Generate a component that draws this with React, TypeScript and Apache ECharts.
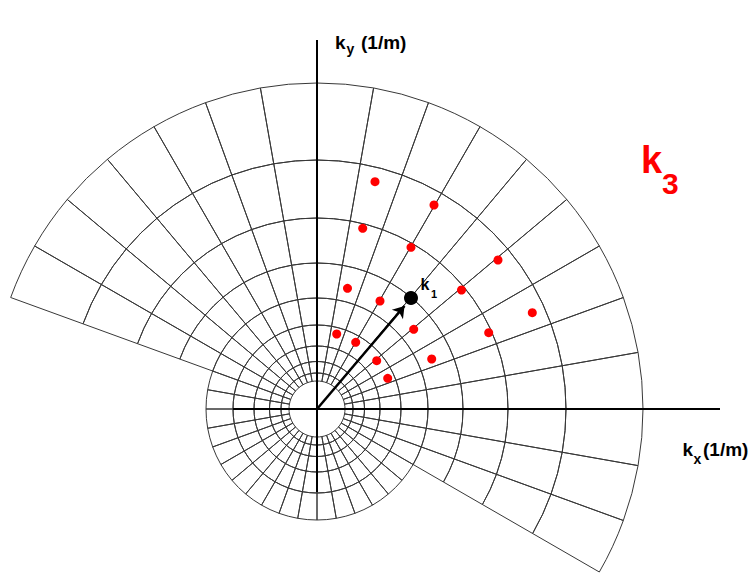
import React, { useEffect, useRef } from "react";
import * as echarts from "echarts";

// Direction bins of the wave-number grid (degrees, start of each 10° bin, counter-clockwise from +kx)
const ANGLE_BINS = [
  "0", "10", "20", "30", "40", "50", "60", "70", "80", "90", "100", "110",
  "120", "130", "140", "150", "160", "170", "180", "190", "200", "210", "220", "230",
  "240", "250", "260", "270", "280", "290", "300", "310", "320", "330", "340", "350",
];
// Bins covered by the outer (high-k) part of the spiral grid: -30° .. 160°
const OUTER_BINS = [
  "330", "340", "350", "0", "10", "20", "30", "40", "50", "60",
  "70", "80", "90", "100", "110", "120", "130", "140", "150",
];
// Wave-number rings |k| (1/m)
const RING_RADII = [0.28, 0.36, 0.475, 0.63, 0.84, 1.11, 1.46, 1.91, 2.49, 3.26];
// number of rings that close into full circles
const FULL_RINGS = 6;

// Axes extents (kx, ky in 1/m)
const AXIS_KX = [[-0.84, 0], [4.03, 0]];
const AXIS_KY = [[0, -0.83], [0, 3.69]];

// k1 vector
const K1 = [0.94, 1.11];
const K1_ARROW_TIP = [0.875, 1.03];

// Resonant k3 points (kx, ky)
const K3_X = [0.58, 1.17, 0.457, 0.94, 1.81, 0.305, 0.63, 1.445, 2.153, 0.967, 1.717, 0.197, 0.387, 0.597, 1.147, 0.707];
const K3_Y = [2.273, 2.04, 1.807, 1.617, 1.49, 1.207, 1.08, 1.19, 0.963, 0.797, 0.763, 0.75, 0.667, 0.483, 0.50, 0.307];

const GRID_COLOR = "#383838";
const FONT = "'Liberation Sans', Arial, sans-serif";

export default function App() {
  const ref = useRef<HTMLDivElement>(null);

  useEffect(() => {
    if (!ref.current) return;
    const chart = echarts.init(ref.current, null, { renderer: "svg" });

    const bandSeries: any[] = [];
    // inner hole (invisible)
    bandSeries.push({
      type: "bar",
      coordinateSystem: "polar",
      stack: "rings",
      barCategoryGap: "0%",
      silent: true,
      z: 1,
      itemStyle: { color: "rgba(0,0,0,0)", borderWidth: 0 },
      emphasis: { disabled: true },
      data: ANGLE_BINS.map(() => RING_RADII[0]),
    });
    for (let i = 0; i < RING_RADII.length - 1; i++) {
      const thick = +(RING_RADII[i + 1] - RING_RADII[i]).toFixed(4);
      const full = i + 1 < FULL_RINGS;
      bandSeries.push({
        type: "bar",
        coordinateSystem: "polar",
        stack: "rings",
        barCategoryGap: "0%",
        silent: true,
        z: 1,
        itemStyle: { color: "rgba(255,255,255,0)", borderColor: GRID_COLOR, borderWidth: 1 },
        emphasis: { disabled: true },
        data: ANGLE_BINS.map((b) => (full || OUTER_BINS.includes(b) ? thick : "-")),
      });
    }

    const txt = (text: string, x: number, y: number, size: number, color = "#000") => ({
      type: "text",
      x,
      y,
      silent: true,
      z: 20,
      style: {
        text,
        fill: color,
        fontSize: size,
        fontWeight: "bold",
        fontFamily: FONT,
        align: "left",
        verticalAlign: "middle",
      },
    });

    chart.setOption({
      animation: false,
      backgroundColor: "#ffffff",
      polar: { center: [317, 409], radius: [0, 400] },
      angleAxis: {
        type: "category",
        data: ANGLE_BINS,
        startAngle: 0,
        clockwise: false,
        boundaryGap: true,
        show: false,
      },
      radiusAxis: { type: "value", min: 0, max: 4, show: false },
      grid: { left: 0, right: 0, top: 0, bottom: 0 },
      xAxis: { type: "value", min: -3.17, max: 4.35, show: false },
      yAxis: { type: "value", min: -1.65, max: 4.09, show: false },
      graphic: [
        txt("k", 335, 42.5, 19),
        txt("y", 346.5, 48.5, 14),
        txt("(1/m)", 361, 42.5, 19),
        txt("k", 682.5, 449.5, 19),
        txt("x", 693.5, 459, 14),
        txt("(1/m)", 703, 449.5, 19),
        txt("k", 420.5, 284.5, 16),
        txt("1", 431, 294, 11),
        txt("k", 641, 160, 38, "#ff0000"),
        txt("3", 662, 183, 30, "#ff0000"),
      ],
      series: [
        ...bandSeries,
        {
          type: "line",
          xAxisIndex: 0,
          yAxisIndex: 0,
          data: AXIS_KX,
          showSymbol: false,
          silent: true,
          z: 3,
          lineStyle: { color: "#000", width: 2 },
        },
        {
          type: "line",
          xAxisIndex: 0,
          yAxisIndex: 0,
          data: AXIS_KY,
          showSymbol: false,
          silent: true,
          z: 3,
          lineStyle: { color: "#000", width: 2 },
        },
        {
          type: "scatter",
          xAxisIndex: 0,
          yAxisIndex: 0,
          symbolSize: 9,
          silent: true,
          z: 4,
          itemStyle: { color: "#ff0000", opacity: 1 },
          data: K3_X.map((x, i) => [x, K3_Y[i]]),
        },
        {
          type: "lines",
          coordinateSystem: "cartesian2d",
          xAxisIndex: 0,
          yAxisIndex: 0,
          silent: true,
          z: 5,
          symbol: ["none", "arrow"],
          symbolSize: 11,
          lineStyle: { color: "#000", width: 2.5, opacity: 1, curveness: 0 },
          data: [{ coords: [[0, 0], K1_ARROW_TIP] }],
        },
        {
          type: "scatter",
          xAxisIndex: 0,
          yAxisIndex: 0,
          symbolSize: 14,
          silent: true,
          z: 6,
          itemStyle: { color: "#000", opacity: 1 },
          data: [K1],
        },
      ],
    });

    return () => chart.dispose();
  }, []);

  return (
    <div
      ref={ref}
      style={{ position: "fixed", left: 0, top: 0, width: 752, height: 574, background: "#fff" }}
    />
  );
}
